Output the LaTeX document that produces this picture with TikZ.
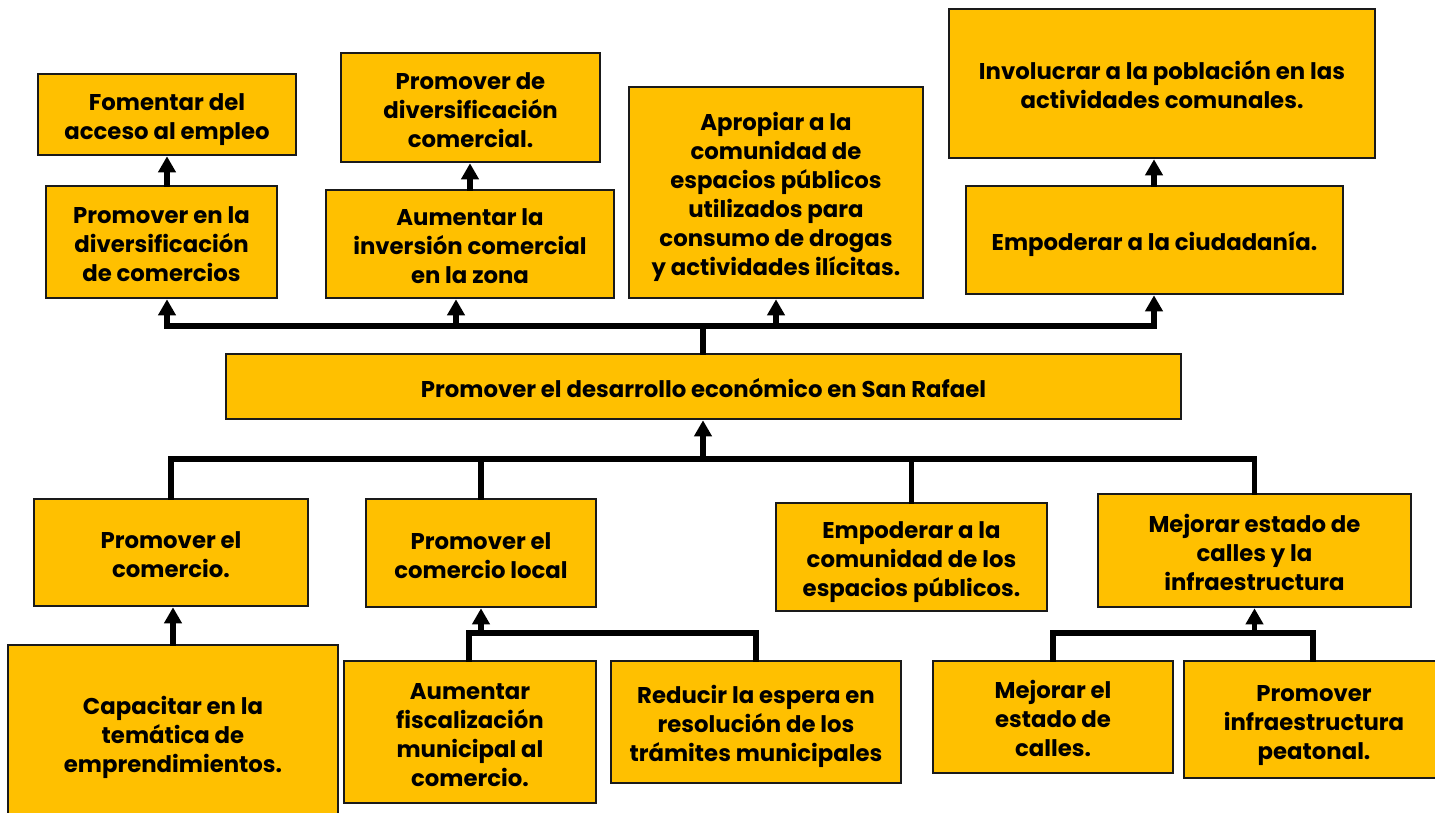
\documentclass[tikz,border=0pt]{standalone}
\usepackage{fontspec}
\setmainfont{Poppins}
\usetikzlibrary{arrows.meta}
\definecolor{boxfill}{HTML}{FFC000}
\definecolor{boxline}{HTML}{1A1A1A}
\newcommand\mystrutA{\rule{0pt}{28pt}}
\newcommand\mystrutB{\rule[-7pt]{0pt}{7pt}}
\tikzset{
  box/.style={draw=boxline, line width=2.6pt, fill=boxfill, inner sep=0pt,
    align=center, text=black, font=\bfseries\fontsize{22.8}{29}\selectfont},
  conn/.style={line width=5.5pt, black, line cap=rect, line join=miter},
  arr/.style={conn, -{Triangle[width=17pt,length=16pt]}},
}
\begin{document}
\begin{tikzpicture}[x=1pt,y=-1pt]
\useasboundingbox (0,0) rectangle (1435,812);
\fill[white] (0,0) rectangle (1435,812);
\clip (0,0) rectangle (1435,812);
% top row
\node[box, minimum width=258pt, minimum height=81pt] (B1) at (167,114.5) {\mystrutA Fomentar del\\acceso al empleo\mystrutB};
\node[box, minimum width=259pt, minimum height=109pt] (B2) at (470.5,107.5) {\mystrutA Promover de\\diversificación\\comercial.\mystrutB};
\node[box, minimum width=231pt, minimum height=112pt] (B3) at (161.5,242) {\mystrutA Promover en la\\diversificación\\de comercios\mystrutB};
\node[box, minimum width=288pt, minimum height=108pt] (B4) at (470,244) {\mystrutA Aumentar la\\inversión comercial\\en la zona\mystrutB};
\node[box, minimum width=294pt, minimum height=211pt] (B5) at (776,192.5) {\mystrutA Apropiar a la\\comunidad de\\espacios públicos\\utilizados para\\consumo de drogas\\y actividades ilícitas.\mystrutB};
\node[box, minimum width=426pt, minimum height=149pt] (B6) at (1162,83.5) {\mystrutA Involucrar a la población en las\\actividades comunales.\mystrutB};
\node[box, minimum width=377pt, minimum height=108pt] (B7) at (1154.5,240) {\mystrutA Empoderar a la ciudadanía.\mystrutB};
% main
\node[box, minimum width=955pt, minimum height=65pt] (M) at (703.5,386.5) {\mystrutA Promover el desarrollo económico en San Rafael\mystrutB};
% middle row
\node[box, minimum width=274pt, minimum height=107pt] (C1) at (171,552.5) {\mystrutA Promover el\\comercio.\mystrutB};
\node[box, minimum width=230pt, minimum height=108pt] (C2) at (481,553) {\mystrutA Promover el\\comercio local\mystrutB};
\node[box, minimum width=271pt, minimum height=108pt] (C3) at (911.5,557) {\mystrutA Empoderar a la\\comunidad de los\\espacios públicos.\mystrutB};
\node[box, minimum width=313pt, minimum height=113pt] (C4) at (1254.5,550.5) {\mystrutA Mejorar estado de\\calles y la\\infraestructura\mystrutB};
% bottom row
\node[box, minimum width=330pt, minimum height=176pt] (D1) at (173,733) {\mystrutA Capacitar en la\\temática de\\emprendimientos.\mystrutB};
\node[box, minimum width=252pt, minimum height=142pt] (D2) at (470,732) {\mystrutA Aumentar\\fiscalización\\municipal al\\comercio.\mystrutB};
\node[box, minimum width=290pt, minimum height=122pt] (D3) at (756,722) {\mystrutA Reducir la espera en\\resolución de los\\trámites municipales\mystrutB};
\node[box, minimum width=240pt, minimum height=112pt] (D4) at (1053,717) {\mystrutA Mejorar el\\estado de\\calles.\mystrutB};
\node[box, minimum width=260pt, minimum height=117pt] (D5) at (1314,719.5) {\mystrutA Promover\\infraestructura\\peatonal.\mystrutB};
% bus coordinates
\coordinate (u1) at (167,326);
\coordinate (u2) at (456,326);
\coordinate (u3) at (776,326);
\coordinate (u4) at (1154,326);
\coordinate (um) at (703,326);
\coordinate (l1) at (171,459);
\coordinate (l4) at (1254.5,459);
\coordinate (lm) at (703,459);
\coordinate (a1) at (469,633);
\coordinate (a2) at (756,633);
\coordinate (am) at (481,633);
\coordinate (b1) at (1053,633);
\coordinate (b2) at (1313,633);
\coordinate (bm) at (1254.5,633);
% upper connectors
\draw[arr] (B3.north -| 167,0) -- (B1.south -| 167,0);
\draw[arr] (B4.north) -- (B2.south -| B4.north);
\draw[arr] (B7.north -| 1154,0) -- (B6.south -| 1154,0);
\draw[conn] (u1) -- (u4);
\draw[conn] (M.north -| um) -- (um);
\draw[arr] (u1) -- (B3.south -| u1);
\draw[arr] (u2) -- (B4.south -| u2);
\draw[arr] (u3) -- (B5.south -| u3);
\draw[arr] (u4) -- (B7.south -| u4);
% lower connectors
\draw[conn] (C1.north -| l1) -- (l1) -- (l4) -- (C4.north -| l4);
\draw[conn] (lm -| C2.north) -- (C2.north);
\draw[conn] (lm -| C3.north) -- (C3.north);
\draw[arr] (lm) -- (M.south -| lm);
\draw[arr] (D1.north) -- (C1.south -| D1.north);
% C2 group
\draw[conn] (D2.north -| a1) -- (a1) -- (a2) -- (D3.north -| a2);
\draw[arr] (am) -- (C2.south -| am);
% C4 group
\draw[conn] (D4.north -| b1) -- (b1) -- (b2) -- (D5.north -| b2);
\draw[arr] (bm) -- (C4.south -| bm);
\end{tikzpicture}
\end{document}
